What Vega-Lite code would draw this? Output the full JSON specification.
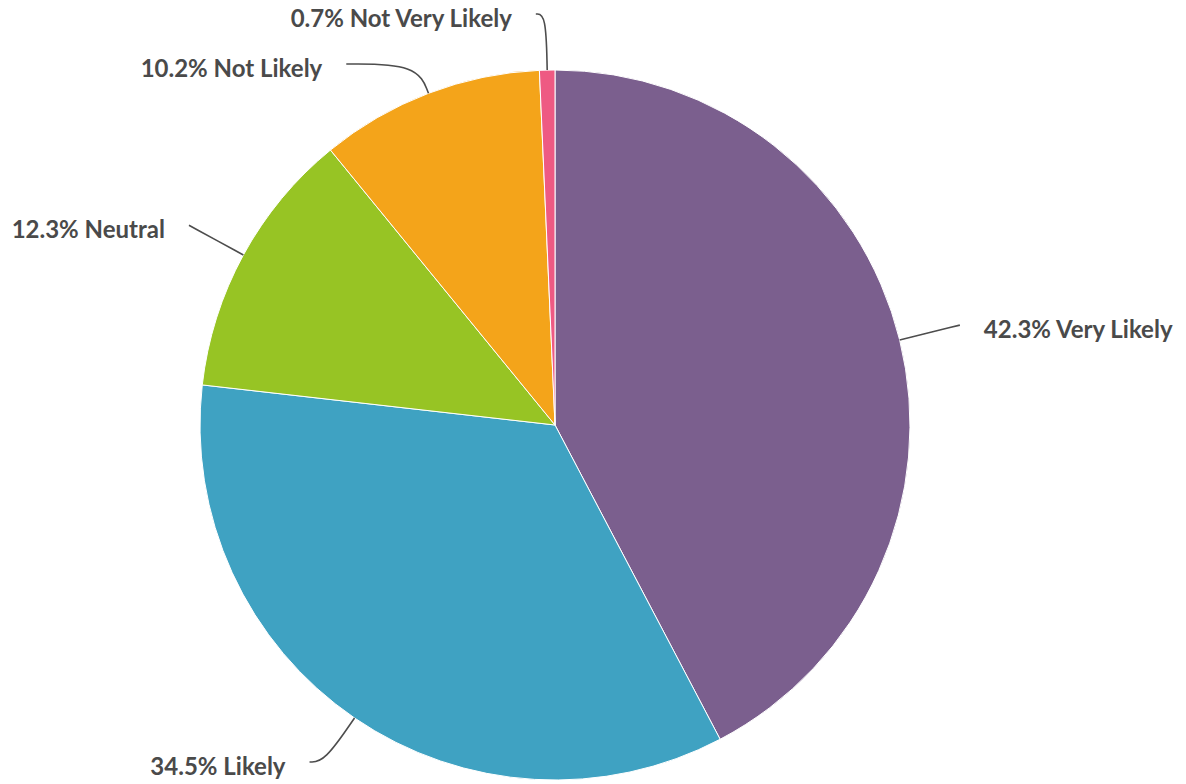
{
  "$schema": "https://vega.github.io/schema/vega-lite/v6.json",
  "width": 710,
  "height": 710,
  "autosize": {"type": "none"},
  "padding": {"left": 200, "top": 70, "right": 276, "bottom": 4},
  "background": "white",
  "config": {"view": {"stroke": null}},
  "data": {
    "values": [
      {"label": "Very Likely", "pct": 42.3, "order": 1},
      {"label": "Likely", "pct": 34.5, "order": 2},
      {"label": "Neutral", "pct": 12.3, "order": 3},
      {"label": "Not Likely", "pct": 10.2, "order": 4},
      {"label": "Not Very Likely", "pct": 0.7, "order": 5}
    ]
  },
  "transform": [
    {"window": [{"op": "sum", "field": "pct", "as": "cum"}], "sort": [{"field": "order"}], "frame": [null, 0]},
    {"joinaggregate": [{"op": "sum", "field": "pct", "as": "total"}]},
    {"calculate": "2*PI*(datum.cum - datum.pct/2)/datum.total", "as": "mid"},
    {"calculate": "sin(datum.mid) < 0 ? -1 : 1", "as": "side"},
    {"calculate": "417*cos(datum.mid)", "as": "natUp"},
    {"calculate": "clamp(datum.natUp, -337, 411)", "as": "clampUp"},
    {"window": [{"op": "lag", "field": "clampUp", "as": "prevUp"}], "groupby": ["side"], "sort": [{"field": "clampUp", "order": "descending"}]},
    {"calculate": "isValid(datum.prevUp) ? min(datum.clampUp, datum.prevUp - 50) : datum.clampUp", "as": "ty"},
    {"calculate": "datum.clampUp != datum.natUp ? 417*sin(datum.mid) - 10 : datum.side*sqrt(max(417*417 - datum.ty*datum.ty, 0))", "as": "tx"},
    {"calculate": "355*sin(datum.mid)", "as": "ex"},
    {"calculate": "355*cos(datum.mid)", "as": "ey"},
    {"calculate": "datum.ex + (datum.ty - datum.ey)/cos(datum.mid)*sin(datum.mid)", "as": "cx"},
    {"calculate": "datum.tx + datum.side*24", "as": "lx"},
    {"calculate": "datum.ty - 6", "as": "ly"},
    {"calculate": "format(datum.pct, '.1f') + '% ' + datum.label", "as": "text"}
  ],
  "layer": [
    {
      "mark": {"type": "arc", "outerRadius": 355, "stroke": "white", "strokeWidth": 1},
      "encoding": {
        "theta": {"field": "pct", "type": "quantitative", "stack": true},
        "order": {"field": "order", "type": "quantitative"},
        "color": {
          "field": "label",
          "type": "nominal",
          "scale": {
            "domain": ["Very Likely", "Likely", "Neutral", "Not Likely", "Not Very Likely"],
            "range": ["#7B5F8E", "#3FA2C2", "#97C424", "#F4A41A", "#EE5A83"]
          },
          "legend": null
        }
      }
    },
    {
      "transform": [
        {"calculate": "[datum.tx, datum.cx, datum.ex]", "as": "px"},
        {"calculate": "[datum.ty, datum.ty, datum.ey]", "as": "py"},
        {"calculate": "[0, 1, 2]", "as": "pi"},
        {"flatten": ["px", "py", "pi"]}
      ],
      "mark": {"type": "line", "interpolate": "basis", "stroke": "#4d4d4d", "strokeWidth": 1.6},
      "encoding": {
        "x": {"field": "px", "type": "quantitative", "scale": {"domain": [-355, 355], "nice": false, "zero": false}, "axis": null},
        "y": {"field": "py", "type": "quantitative", "scale": {"domain": [-355, 355], "nice": false, "zero": false}, "axis": null},
        "detail": {"field": "label"},
        "order": {"field": "pi", "type": "quantitative"}
      }
    },
    {
      "transform": [{"filter": "datum.side > 0"}],
      "mark": {"type": "text", "align": "left", "baseline": "middle", "font": "Lato", "fontSize": 24, "fontWeight": "bold", "color": "#4a4a4a"},
      "encoding": {
        "x": {"field": "lx", "type": "quantitative"},
        "y": {"field": "ly", "type": "quantitative"},
        "text": {"field": "text"}
      }
    },
    {
      "transform": [{"filter": "datum.side < 0"}],
      "mark": {"type": "text", "align": "right", "baseline": "middle", "font": "Lato", "fontSize": 24, "fontWeight": "bold", "color": "#4a4a4a"},
      "encoding": {
        "x": {"field": "lx", "type": "quantitative"},
        "y": {"field": "ly", "type": "quantitative"},
        "text": {"field": "text"}
      }
    }
  ]
}
